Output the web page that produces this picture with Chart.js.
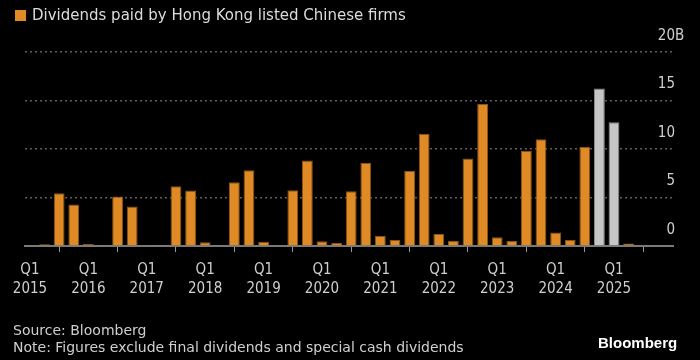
<!DOCTYPE html>
<html>
<head>
<meta charset="utf-8">
<script src="https://cdn.jsdelivr.net/npm/chart.js@4.4.1/dist/chart.umd.min.js"></script>
<style>
  html, body { margin: 0; padding: 0; background: #000; }
  #wrap { position: relative; width: 700px; height: 360px; background: #000; overflow: hidden; font-family: "DejaVu Sans", sans-serif; }
  #chart { position: absolute; left: 0; top: 0; }
  .title { position: absolute; left: 15px; top: 5px; color: #dcdcdc; font-size: 15px; line-height: 20px; white-space: nowrap; }
  .title .sw { display: inline-block; width: 11px; height: 11px; background: #e08b25; margin-right: 6px; vertical-align: -1px; }
  .foot { position: absolute; left: 13px; color: #cfcfcf; font-size: 14px; line-height: 17px; white-space: nowrap; }
  .brand { position: absolute; left: 598px; top: 333px; color: #fff; font-weight: bold; font-size: 15px; line-height: 20px; font-family: "Liberation Sans", Arial, sans-serif; }
</style>
</head>
<body>
<div id="wrap">
  <canvas id="chart" width="700" height="360"></canvas>
  <div class="title"><span class="sw"></span>Dividends paid by Hong Kong listed Chinese firms</div>
  <div class="foot" style="top:322px">Source: Bloomberg</div>
  <div class="foot" style="top:339px">Note: Figures exclude final dividends and special cash dividends</div>
  <div class="brand">Bloomberg</div>
</div>
<script>
// Quarters (categories)
const quarters = [
  'Q1 2015','Q2 2015','Q3 2015','Q4 2015',
  'Q1 2016','Q2 2016','Q3 2016','Q4 2016',
  'Q1 2017','Q2 2017','Q3 2017','Q4 2017',
  'Q1 2018','Q2 2018','Q3 2018','Q4 2018',
  'Q1 2019','Q2 2019','Q3 2019','Q4 2019',
  'Q1 2020','Q2 2020','Q3 2020','Q4 2020',
  'Q1 2021','Q2 2021','Q3 2021','Q4 2021',
  'Q1 2022','Q2 2022','Q3 2022','Q4 2022',
  'Q1 2023','Q2 2023','Q3 2023','Q4 2023',
  'Q1 2024','Q2 2024','Q3 2024','Q4 2024',
  'Q1 2025','Q2 2025'
];
// Dividends paid, billions
const dividends = [
  0.08, 0.18, 5.44, 4.27,
  0.2, 0.05, 5.1, 4.06,
  0.07, 0.05, 6.16, 5.72,
  0.38, 0.05, 6.57, 7.8,
  0.45, 0.1, 5.75, 8.81,
  0.48, 0.31, 5.65, 8.57,
  1.03, 0.62, 7.74, 11.56,
  1.24, 0.55, 9.02, 14.63,
  0.9, 0.52, 9.81, 11.01,
  1.38, 0.62, 10.22, 16.24,
  12.77, 0.27
];
// Quarters shown in grey
const greyQuarters = ['Q4 2024', 'Q1 2025'];
// Axis labels
const tickYears = ['2015','2016','2017','2018','2019','2020','2021','2022','2023','2024','2025'];
const yTickValues = [0, 5, 10, 15, 20];
const yUnit = 'B';

const ORANGE = '#df8a25', ORANGE_EDGE = '#8a5416';
const GREY = '#c6c6c6', GREY_EDGE = '#8c8c8c';
const AXIS_FONT = '"DejaVu Sans Condensed", "DejaVu Sans", sans-serif';

const points = quarters.map((q, i) => ({ x: i, y: dividends[i] }));
const isGrey = (i) => greyQuarters.includes(quarters[i]);

const yLabels = {
  id: 'yLabels',
  afterDraw(chart) {
    const { ctx } = chart;
    const y = chart.scales.y;
    ctx.save();
    ctx.fillStyle = '#cfcfcf';
    ctx.font = '15px ' + AXIS_FONT;
    ctx.textBaseline = 'middle';
    yTickValues.forEach(v => {
      const py = y.getPixelForValue(v) - 16;
      ctx.textAlign = 'right';
      ctx.fillText(String(v), 675, py);
      if (v === yTickValues[yTickValues.length - 1]) {
        ctx.textAlign = 'left';
        ctx.fillText(yUnit, 675, py);
      }
    });
    ctx.restore();
  }
};

new Chart(document.getElementById('chart'), {
  type: 'bar',
  data: {
    datasets: [{
      data: points,
      backgroundColor: (c) => isGrey(c.dataIndex) ? GREY : ORANGE,
      borderColor: (c) => isGrey(c.dataIndex) ? GREY_EDGE : ORANGE_EDGE,
      borderWidth: 1,
      borderSkipped: 'bottom',
      barPercentage: 0.74,
      categoryPercentage: 1
    }]
  },
  options: {
    responsive: false,
    animation: false,
    layout: { padding: { left: 25, right: 27, top: 52, bottom: 54 } },
    plugins: { legend: { display: false }, tooltip: { enabled: false } },
    scales: {
      x: {
        type: 'linear',
        offset: false,
        min: -0.34,
        max: 44.04,
        afterBuildTicks: (s) => { s.ticks = tickYears.map((_, k) => ({ value: k * 4 })); },
        afterFit: (s) => { s.height = 60; },
        grid: { display: true, drawOnChartArea: false, drawTicks: true, tickLength: 6, color: '#9a9a9a', tickWidth: 1 },
        border: { display: true, color: '#7a7a7a', width: 2 },
        ticks: {
          autoSkip: false,
          maxRotation: 0,
          color: '#cfcfcf',
          font: { family: AXIS_FONT, size: 15, lineHeight: 1.25 },
          padding: 9,
          callback: (v) => ['Q1', tickYears[Math.round(v / 4)]]
        }
      },
      y: {
        position: 'right',
        min: 0,
        max: 20,
        afterFit: (s) => { s.width = 0; },
        afterBuildTicks: (s) => { s.ticks = yTickValues.map(v => ({ value: v })); },
        ticks: { display: false },
        border: { display: false, dash: [2, 3] },
        grid: { color: '#5e5e5e', lineWidth: 1.5, drawTicks: false }
      }
    }
  },
  plugins: [yLabels]
});
</script>
</body>
</html>
